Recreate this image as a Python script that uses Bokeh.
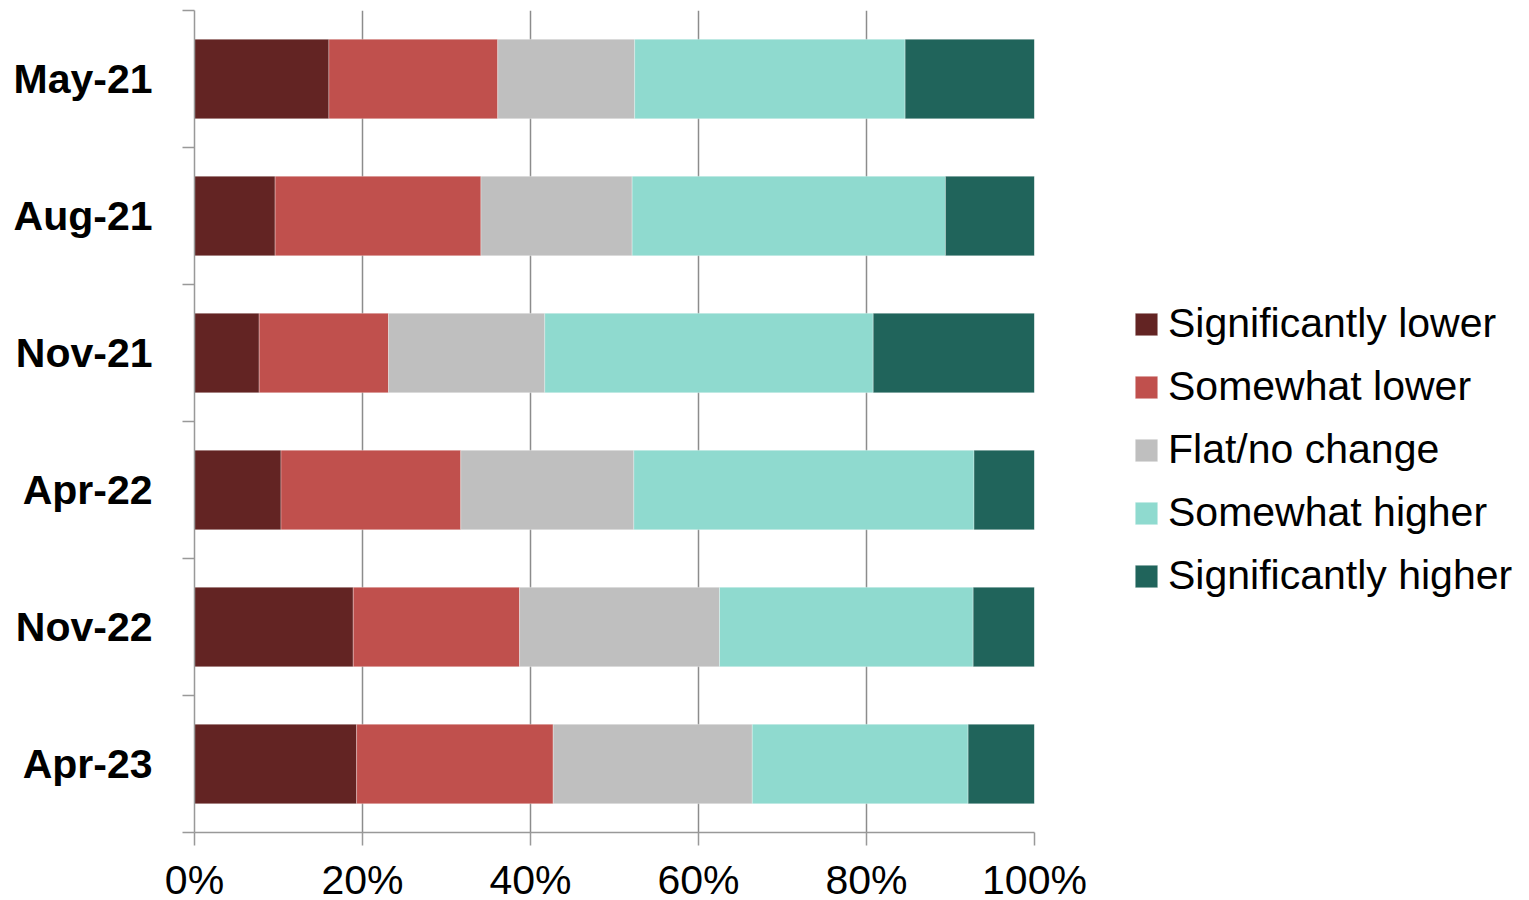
from bokeh.plotting import figure
from bokeh.models import (ColumnDataSource, Range1d, FixedTicker, PrintfTickFormatter,
                          Legend, LegendItem)
from bokeh.embed import file_html
from bokeh.resources import INLINE

# ---- data (percent of respondents) ----
categories = ["May-21", "Aug-21", "Nov-21", "Apr-22", "Nov-22", "Apr-23"]
series_labels = ["Significantly lower", "Somewhat lower", "Flat/no change",
                 "Somewhat higher", "Significantly higher"]
sig_lower = [16.0, 9.6, 7.7, 10.3, 18.9, 19.3]
some_lower = [20.1, 24.5, 15.4, 21.4, 19.8, 23.4]
flat = [16.3, 18.0, 18.6, 20.6, 23.8, 23.7]
some_higher = [32.2, 37.3, 39.1, 40.5, 30.2, 25.7]
sig_higher = [15.4, 10.6, 19.2, 7.2, 7.3, 7.9]
x_ticks = [0, 20, 40, 60, 80, 100]

colors = ["#632423", "#C0504D", "#BFBFBF", "#8FDACF", "#20645B"]
keys = ["sig_lower", "some_lower", "flat", "some_higher", "sig_higher"]

n = len(categories)
ypos = [n - i - 0.5 for i in range(n)]

source = ColumnDataSource(dict(
    y=ypos, sig_lower=sig_lower, some_lower=some_lower, flat=flat,
    some_higher=some_higher, sig_higher=sig_higher))

FONT = "Liberation Sans"
FS = "41px"

p = figure(frame_width=840, frame_height=822, min_border_left=194, min_border_right=495,
           min_border_top=10, min_border_bottom=0,
           x_range=Range1d(0, 100), y_range=Range1d(0, n),
           output_backend="svg", toolbar_location=None)
p.outline_line_color = None
p.background_fill_color = "white"

renderers = p.hbar_stack(keys, y="y", height=0.58, color=colors, source=source,
                         line_color="white", line_width=0.6, line_alpha=0.5)

# x axis
p.xaxis.ticker = FixedTicker(ticks=x_ticks, minor_ticks=[])
p.xaxis.formatter = PrintfTickFormatter(format="%d%%")
p.xaxis.axis_line_color = "#999999"
p.xaxis.axis_line_width = 1.5
p.xaxis.major_tick_line_color = "#999999"
p.xaxis.major_tick_line_width = 1.5
p.xaxis.major_tick_out = 13
p.xaxis.major_tick_in = 0
p.xaxis.major_label_text_font = FONT
p.xaxis.major_label_text_font_size = FS
p.xaxis.major_label_text_color = "black"
p.xaxis.major_label_standoff = 11

# y axis: labels at centres, ticks at category boundaries (as minor ticks)
p.yaxis.ticker = FixedTicker(ticks=ypos, minor_ticks=list(range(n + 1)))
p.yaxis.major_label_overrides = {y: c for y, c in zip(ypos, categories)}
p.yaxis.axis_line_color = "#999999"
p.yaxis.axis_line_width = 1.5
p.yaxis.major_tick_line_color = None
p.yaxis.major_tick_out = 0
p.yaxis.major_tick_in = 0
p.yaxis.minor_tick_line_color = "#999999"
p.yaxis.minor_tick_line_width = 1.5
p.yaxis.minor_tick_out = 12
p.yaxis.minor_tick_in = 0
p.yaxis.major_label_text_font = FONT
p.yaxis.major_label_text_font_style = "bold"
p.yaxis.major_label_text_font_size = FS
p.yaxis.major_label_text_color = "black"
p.yaxis.major_label_standoff = 30

# grid
p.ygrid.grid_line_color = None
p.xgrid.ticker = FixedTicker(ticks=x_ticks[1:])
p.xgrid.grid_line_color = "#8C8C8C"
p.xgrid.grid_line_width = 1.5

legend = Legend(items=[LegendItem(label=l, renderers=[r]) for l, r in zip(series_labels, renderers)],
                location=(98, 233), orientation="vertical",
                glyph_width=28, glyph_height=28, label_standoff=8, spacing=16,
                padding=0, margin=0, border_line_color=None, background_fill_alpha=0,
                label_text_font=FONT, label_text_font_size=FS, label_text_color="black")
p.add_layout(legend, "right")

open("out.html", "w").write(file_html(p, INLINE))
